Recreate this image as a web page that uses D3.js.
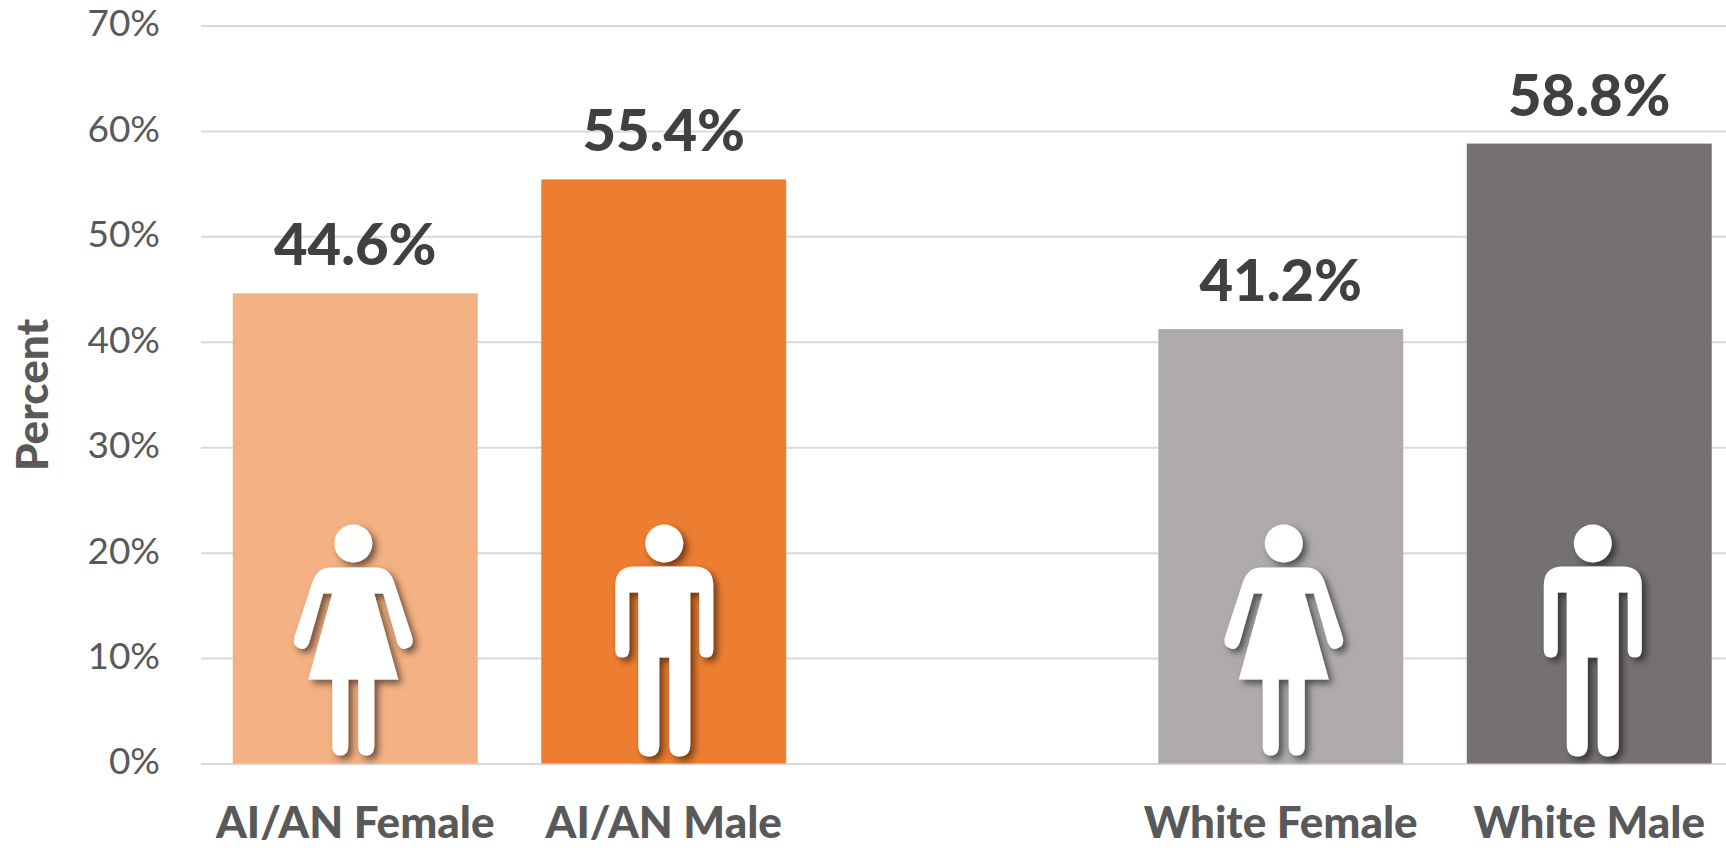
<!DOCTYPE html>
<html>
<head>
<meta charset="utf-8">
<title>Percent by group</title>
<script src="https://cdn.jsdelivr.net/npm/d3@7"></script>
<style>
  html, body { margin: 0; padding: 0; background: #fff; overflow: hidden; }
  svg { display: block; }
  text { font-family: Lato, sans-serif; }
</style>
</head>
<body>
<div id="chart"></div>
<script>
const categories = ["AI/AN Female", "AI/AN Male", "", "White Female", "White Male"];
const barCategories = ["AI/AN Female", "AI/AN Male", "White Female", "White Male"];
const barValues = [44.6, 55.4, 41.2, 58.8];
const barColors = ["#F4B183", "#ED7D31", "#AFABAB", "#767171"];
const barGenders = ["f", "m", "f", "m"];
const yTicks = [0, 10, 20, 30, 40, 50, 60, 70];

const w = 1726;
const h = 848;

/* figures, drawn around the centre of the head */
const icons = {
  f: "M-23,24 H23 Q36,24 41,39 L59,94 Q61,103 53,105 Q47,107 44,99 L30,50 H21 L45,136 H21 V203 Q21,212 13,212 Q5,212 5,203 V136 H-5 V203 Q-5,212 -13,212 Q-21,212 -21,203 V136 H-45 L-21,50 H-30 L-44,99 Q-47,107 -53,105 Q-61,103 -59,94 L-41,39 Q-36,24 -23,24 Z",
  m: "M-30,23 H30 Q49,23 49,42 V106 Q49,114 42,114 Q35,114 35,106 V49 H26 V201 Q26,213 15,213 Q5,213 5,201 V114 H-5 V201 Q-5,213 -15,213 Q-26,213 -26,201 V49 H-35 V106 Q-35,114 -42,114 Q-49,114 -49,106 V42 Q-49,23 -30,23 Z"
};
const iconShift = [-2, 0.5, 3, 3.5]; /* the figures are not quite centred on the bars */

const xScale = d3.scaleBand()
  .domain(categories)
  .range([201, 1743.5])
  .paddingInner(0.206)
  .paddingOuter(0.103);

const yScale = d3.scaleLinear()
  .domain([0, 70])
  .range([763.5, 25.5]);

const svg = d3.select("#chart")
  .append("svg")
  .attr("width", w)
  .attr("height", h);

const shadow = svg.append("defs")
  .append("filter")
  .attr("id", "iconShadow")
  .attr("x", "-30%")
  .attr("y", "-20%")
  .attr("width", "170%")
  .attr("height", "140%");
shadow.append("feDropShadow")
  .attr("dx", 4)
  .attr("dy", 4)
  .attr("stdDeviation", 3.5)
  .attr("flood-color", "#000")
  .attr("flood-opacity", 0.55);

const yAxis = d3.axisLeft(yScale)
  .tickValues(yTicks)
  .tickFormat((d) => d + "%")
  .tickSize(-(w - 201))
  .tickPadding(41);

const gy = svg.append("g")
  .attr("transform", "translate(201,0)")
  .call(yAxis);
gy.select(".domain").remove();
gy.selectAll(".tick line")
  .attr("stroke", "#D9D9D9")
  .attr("stroke-width", 2);
gy.selectAll(".tick text")
  .attr("fill", "#595959")
  .attr("dy", "0.28em")
  .style("font-family", "Lato, sans-serif")
  .style("font-size", "37px");

const xAxis = d3.axisBottom(xScale)
  .tickValues(barCategories)
  .tickSize(0)
  .tickPadding(43);

const gx = svg.append("g")
  .attr("transform", "translate(0," + yScale(0) + ")")
  .call(xAxis);
gx.select(".domain").remove();
gx.selectAll(".tick text")
  .attr("fill", "#595959")
  .style("font-family", "Lato, sans-serif")
  .style("font-size", "44px")
  .style("font-weight", "900");

svg.selectAll("rect.bar")
  .data(barValues)
  .enter()
  .append("rect")
  .attr("class", "bar")
  .attr("x", (d, i) => xScale(barCategories[i]))
  .attr("y", (d) => yScale(d))
  .attr("width", xScale.bandwidth())
  .attr("height", (d) => yScale(0) - yScale(d))
  .attr("fill", (d, i) => barColors[i]);

const figures = svg.selectAll("g.figure")
  .data(barCategories)
  .enter()
  .append("g")
  .attr("class", "figure")
  .attr("filter", "url(#iconShadow)")
  .attr("transform", (d, i) => "translate(" + (xScale(d) + xScale.bandwidth() / 2 + iconShift[i]) + "," + (yScale(0) - 220) + ")");
figures.append("circle")
  .attr("r", 19)
  .attr("fill", "#fff");
figures.append("path")
  .attr("d", (d, i) => icons[barGenders[i]])
  .attr("fill", "#fff");

svg.selectAll("text.value")
  .data(barValues)
  .enter()
  .append("text")
  .attr("class", "value")
  .attr("x", (d, i) => xScale(barCategories[i]) + xScale.bandwidth() / 2)
  .attr("y", (d) => yScale(d) - 28)
  .attr("text-anchor", "middle")
  .attr("fill", "#404040")
  .style("font-size", "58px")
  .style("font-weight", "900")
  .text((d) => d.toFixed(1) + "%");

svg.append("text")
  .attr("transform", "translate(48,395) rotate(-90)")
  .attr("text-anchor", "middle")
  .attr("fill", "#595959")
  .style("font-size", "44px")
  .style("font-weight", "900")
  .text("Percent");
</script>
</body>
</html>
